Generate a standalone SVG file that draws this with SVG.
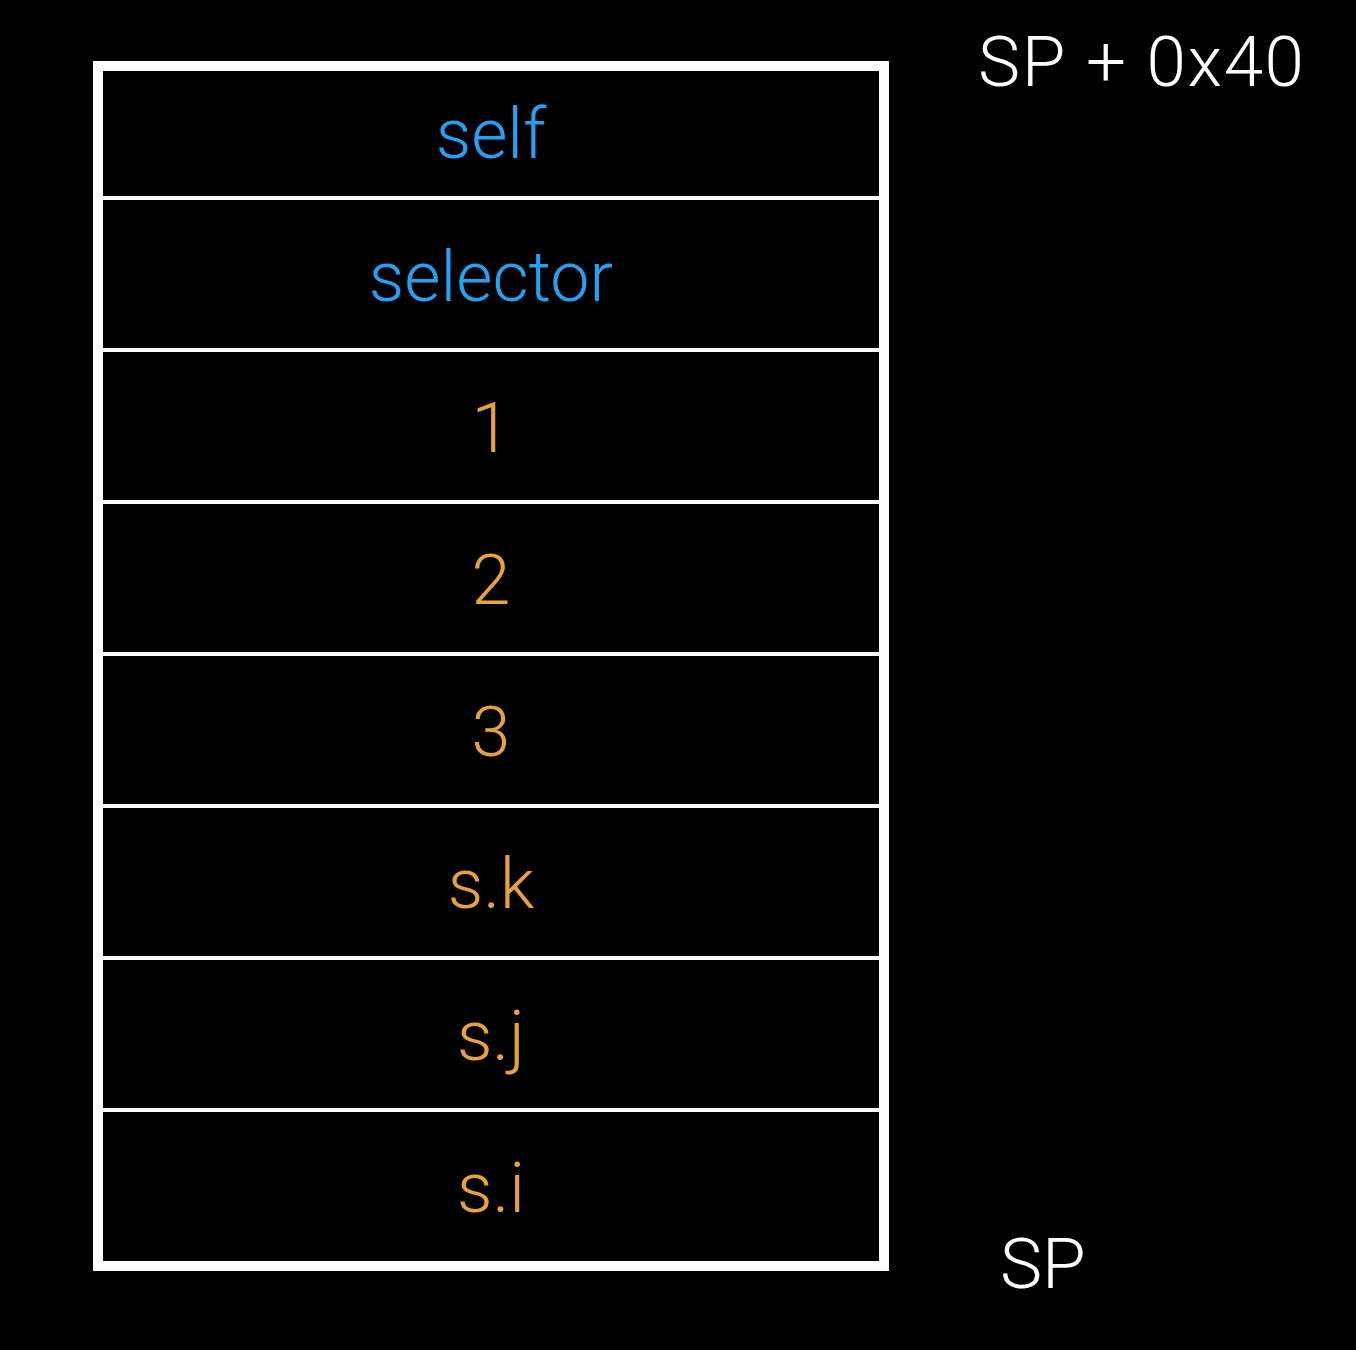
<svg xmlns="http://www.w3.org/2000/svg" width="1356" height="1350" viewBox="0 0 1356 1350">
<style>
.t{font-family:Roboto,"Liberation Sans",sans-serif;font-weight:300;font-size:70px;text-anchor:middle}
.b{fill:#25a0f2}
.o{fill:#e9a23b}
.w{fill:#ffffff;font-family:Roboto,"Liberation Sans",sans-serif;font-weight:300;font-size:71px}
.sep{stroke:#ffffff;stroke-width:4}
</style>
<rect x="0" y="0" width="1356" height="1350" fill="#000000"/>
<g id="stack">
<rect x="98" y="66" width="786" height="1200" fill="none" stroke="#ffffff" stroke-width="10"/>
</g>
<g id="separators">
<line class="sep" x1="103" y1="198" x2="879" y2="198"/>
<line class="sep" x1="103" y1="350" x2="879" y2="350"/>
<line class="sep" x1="103" y1="502" x2="879" y2="502"/>
<line class="sep" x1="103" y1="654" x2="879" y2="654"/>
<line class="sep" x1="103" y1="806" x2="879" y2="806"/>
<line class="sep" x1="103" y1="958" x2="879" y2="958"/>
<line class="sep" x1="103" y1="1110" x2="879" y2="1110"/>
</g>
<g id="row-self"><text class="t b" x="491" y="158">self</text></g>
<g id="row-selector"><text class="t b" x="491" y="301">selector</text></g>
<g id="row-1"><text class="t o" x="491" y="452">1</text></g>
<g id="row-2"><text class="t o" x="491" y="604">2</text></g>
<g id="row-3"><text class="t o" x="491" y="756">3</text></g>
<g id="row-sk"><text class="t o" x="491" y="908">s.k</text></g>
<g id="row-sj"><text class="t o" x="491" y="1060">s.j</text></g>
<g id="row-si"><text class="t o" x="491" y="1212">s.i</text></g>
<g id="label-top"><text class="w" x="978" y="86" textLength="326" lengthAdjust="spacing">SP + 0x40</text></g>
<g id="label-bottom"><text class="w" x="1000" y="1288">SP</text></g>
</svg>
